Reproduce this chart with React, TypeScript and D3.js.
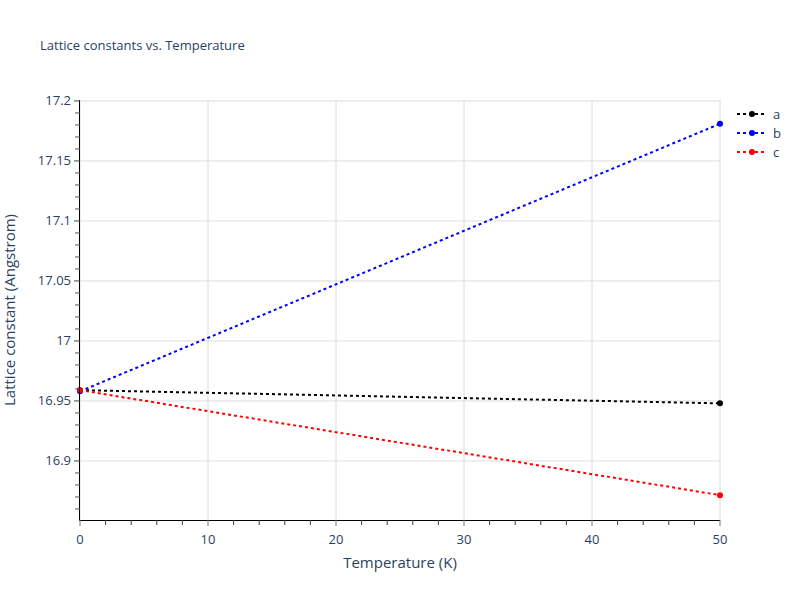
import React from "react";
import * as d3 from "d3";

const temperatures = [0, 50];
const seriesA = [16.959, 16.948];
const seriesB = [16.958, 17.181];
const seriesC = [16.959, 16.8715];
const seriesNames = ["a", "b", "c"];
const seriesColors = ["black", "blue", "red"];
const xTicks = [0, 10, 20, 30, 40, 50];
const yTicks = [16.9, 16.95, 17, 17.05, 17.1, 17.15, 17.2];

const W = 800, H = 600;
const L = 80, R = 720, T = 100, B = 520;
const FONT = "'Open Sans', verdana, arial, sans-serif";
const TXT = "#2a3f5f";

export default function App() {
  const x = d3.scaleLinear().domain([0, 50]).range([L, R]);
  const y = d3.scaleLinear().domain([16.8508, 17.2008]).range([B, T]);
  const series = [seriesA, seriesB, seriesC];
  const line = d3.line<[number, number]>().x(d => x(d[0])).y(d => y(d[1]));
  const xMinor = d3.range(0, 50.001, 2).filter(v => !xTicks.includes(v));
  const yMinor = d3.range(0, 35).map(i => +(16.86 + i * 0.01).toFixed(2)).filter(v => v <= 17.2 && !yTicks.some(t => Math.abs(t - v) < 1e-6));
  return (
    <svg width={W} height={H} style={{ display: "block", position: "absolute", left: 0, top: 0 }} fontFamily={FONT}>
      <rect width={W} height={H} fill="white" />
      {xTicks.map(v => (
        <line key={"gx" + v} x1={x(v)} x2={x(v)} y1={T} y2={B} stroke="#dcdcdc" strokeWidth={1} />
      ))}
      {yTicks.map(v => (
        <line key={"gy" + v} x1={L} x2={R} y1={y(v)} y2={y(v)} stroke="#dcdcdc" strokeWidth={1} />
      ))}
      {series.map((s, i) => (
        <g key={"s" + i}>
          <path d={line(temperatures.map((t, j) => [t, s[j]]) as [number, number][]) || ""} fill="none" stroke={seriesColors[i]} strokeWidth={2} strokeDasharray="3,3" />
          {temperatures.map((t, j) => (
            <circle key={j} cx={x(t)} cy={y(s[j])} r={3} fill={seriesColors[i]} />
          ))}
        </g>
      ))}
      <line x1={L - 0.5} x2={L - 0.5} y1={T} y2={B + 0.5} stroke="black" strokeWidth={1} />
      <line x1={L - 0.5} x2={R} y1={B + 0.5} y2={B + 0.5} stroke="black" strokeWidth={1} />
      {xTicks.map(v => (
        <g key={"tx" + v}>
          <line x1={x(v)} x2={x(v)} y1={B} y2={B + 6} stroke="#777" />
          <text x={x(v)} y={B + 24} textAnchor="middle" fontSize={13} fill={TXT}>{v}</text>
        </g>
      ))}
      {xMinor.map(v => (
        <line key={"mx" + v} x1={x(v)} x2={x(v)} y1={B} y2={B + 5} stroke="#444" />
      ))}
      {yTicks.map(v => (
        <g key={"ty" + v}>
          <line x1={L - 6} x2={L} y1={y(v)} y2={y(v)} stroke="#444" />
          <text x={L - 9} y={y(v) + 4.5} textAnchor="end" fontSize={13} fill={TXT}>{String(v)}</text>
        </g>
      ))}
      {yMinor.map(v => (
        <line key={"my" + v} x1={L - 5} x2={L} y1={y(v)} y2={y(v)} stroke="#555" />
      ))}
      <text x={40} y={50} fontSize={13} fill={TXT}>Lattice constants vs. Temperature</text>
      <text x={(L + R) / 2} y={568} textAnchor="middle" fontSize={15} fill={TXT}>Temperature (K)</text>
      <text transform={`translate(15,${(T + B) / 2}) rotate(-90)`} textAnchor="middle" fontSize={15} fill={TXT}>Lattice constant (Angstrom)</text>
      {seriesNames.map((n, i) => (
        <g key={"lg" + n} transform={`translate(737,${114 + i * 19})`}>
          <line x1={0} x2={30} y1={0} y2={0} stroke={seriesColors[i]} strokeWidth={2} strokeDasharray="3,3" />
          <circle cx={15} cy={0} r={3} fill={seriesColors[i]} />
          <text x={36} y={4.5} fontSize={13} fill={TXT}>{n}</text>
        </g>
      ))}
    </svg>
  );
}
